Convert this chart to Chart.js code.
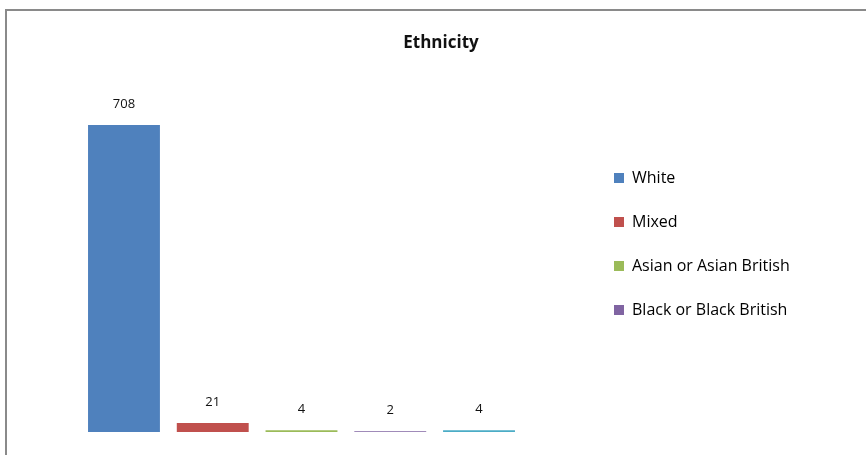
<!DOCTYPE html>
<html>
<head>
<meta charset="utf-8">
<script src="https://cdn.jsdelivr.net/npm/chart.js@4.4.1/dist/chart.umd.min.js"></script>
<style>
  html, body { margin: 0; padding: 0; background: #fff; overflow: hidden; }
  #wrap { position: relative; width: 866px; height: 455px; }
  #frame {
    position: absolute; left: 5px; top: 9px; width: 900px; height: 500px;
    border: 2px solid #8a8a8a; pointer-events: none;
  }
</style>
</head>
<body>
<div id="wrap">
  <canvas id="ethnicityCanvas" width="866" height="455"></canvas>
  <div id="frame"></div>
</div>
<script>
const categories = [
  "White",
  "Mixed",
  "Asian or Asian British",
  "Black or Black British",
  "Chinese or other ethnic group",
];
const counts = [708, 21, 4, 2, 4];
const barColors = ["#4f81bd", "#c0504d", "#9bbb59", "#8064a2", "#4bacc6"];
const legendShown = 4; // only the first four entries fit in the original legend
const yMax = 800;

// widen the legend box so that it starts where the original one does
const legendWidth = {
  id: "legendWidth",
  beforeInit(chart) {
    const fit = chart.legend.fit;
    chart.legend.fit = function () {
      fit.bind(chart.legend)();
      this.width = 280;
    };
  },
};

// value labels above the bars
const valueLabels = {
  id: "valueLabels",
  afterDatasetsDraw(chart) {
    const { ctx } = chart;
    const meta = chart.getDatasetMeta(0);
    ctx.save();
    ctx.font = "13px 'Open Sans'";
    ctx.fillStyle = "#111";
    ctx.textAlign = "center";
    ctx.textBaseline = "middle";
    meta.data.forEach((bar, i) => {
      ctx.fillText(String(counts[i]), bar.x, bar.y - 21);
    });
    ctx.restore();
  },
};

const ethnicityChart = new Chart(document.getElementById("ethnicityCanvas"), {
  type: "bar",
  data: {
    labels: categories,
    datasets: [
      {
        label: "Ethnicity",
        data: counts,
        backgroundColor: barColors,
        borderWidth: 0,
        categoryPercentage: 0.81,
        barPercentage: 1,
      },
    ],
  },
  options: {
    responsive: false,
    animation: false,
    layout: { padding: { left: 16, right: 0, top: 33, bottom: 0 } },
    scales: {
      x: {
        display: true,
        ticks: { display: false },
        grid: { display: false },
        border: { display: false },
        afterFit: (scale) => { scale.height = 23; },
      },
      y: {
        min: 0,
        max: yMax,
        display: true,
        ticks: { display: false },
        grid: { display: false },
        border: { display: false },
        afterFit: (scale) => { scale.width = 63.6; },
      },
      yGap: {
        type: "linear",
        position: "right",
        display: true,
        ticks: { display: false },
        grid: { display: false },
        border: { display: false },
        afterFit: (scale) => { scale.width = 62.6; },
      },
    },
    plugins: {
      title: {
        display: true,
        text: "Ethnicity",
        color: "#111",
        font: { family: "'Open Sans'", size: 17, weight: "bold", lineHeight: 1.2 },
        padding: { top: 0, bottom: 31.6 },
      },
      legend: {
        display: true,
        position: "right",
        align: "center",
        labels: {
          boxWidth: 10,
          boxHeight: 10,
          padding: 28,
          color: "#111",
          font: { family: "'Open Sans'", size: 16 },
          generateLabels: () =>
            categories.slice(0, legendShown).map((name, i) => ({
              text: name,
              fillStyle: barColors[i],
              strokeStyle: barColors[i],
              lineWidth: 0,
              index: i,
            })),
        },
      },
      tooltip: { enabled: false },
    },
  },
  plugins: [legendWidth, valueLabels],
});
</script>
</body>
</html>
